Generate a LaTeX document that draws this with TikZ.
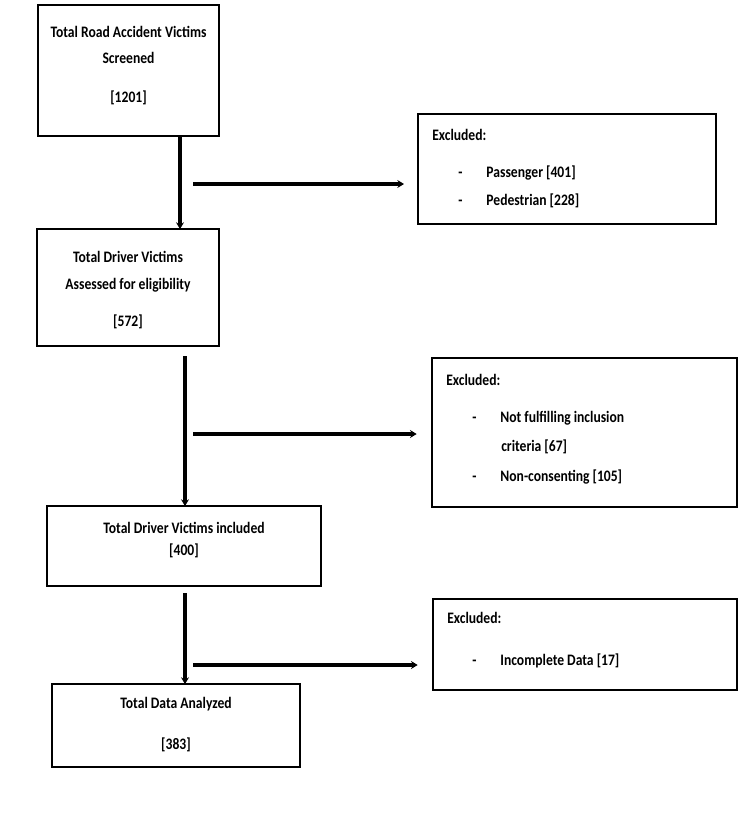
\documentclass[tikz,border=0pt]{standalone}
\usepackage{fontspec}
\setmainfont{Carlito}[FakeStretch=0.85]
\usetikzlibrary{arrows.meta,positioning}
\tikzset{
  flowbox/.style={draw, line width=1pt, inner sep=0pt},
  exclbox/.style={draw, line width=1pt, inner sep=0pt},
  lbl/.style={font=\bfseries\fontsize{12}{14}\selectfont, inner sep=0pt},
  txt/.style={lbl, anchor=west},
  flow/.style={line width=3pt, -{Stealth[length=5pt,width=6pt]}},
  side/.style={line width=2.5pt, -{Stealth[length=5pt,width=6pt]}}
}
\begin{document}
\begin{tikzpicture}[x=0.75pt,y=-0.75pt]
  \useasboundingbox (0,0) rectangle (750,822);
  % main boxes
  \node[flowbox, minimum width=181*0.75pt, minimum height=131*0.75pt] (screen) at (128.5,70.5) {};
  \node[lbl] at (128.5,32) {Total Road Accident Victims};
  \node[lbl] at (128.5,58) {Screened};
  \node[lbl] at (128.5,98) {[1201]};
  \node[flowbox, minimum width=182*0.75pt, minimum height=117*0.75pt] (assess) at (128,287.5) {};
  \node[lbl] at (128,257) {Total Driver Victims};
  \node[lbl] at (128,285) {Assessed for eligibility};
  \node[lbl] at (128,322) {[572]};
  \node[flowbox, minimum width=274*0.75pt, minimum height=80*0.75pt] (incl) at (184,546) {};
  \node[lbl] at (184,528) {Total Driver Victims included};
  \node[lbl] at (184,551) {[400]};
  \node[flowbox, minimum width=248*0.75pt, minimum height=83*0.75pt] (anal) at (176,725.5) {};
  \node[lbl] at (176,704) {Total Data Analyzed};
  \node[lbl] at (176,745) {[383]};
  % excluded boxes
  \node[exclbox, minimum width=298*0.75pt, minimum height=110*0.75pt] (exA) at (567,169) {};
  \node[txt] at (432,135) {Excluded:};
  \node[txt] at (458,173) {-\hspace{18pt}Passenger [401]};
  \node[txt] at (458,201) {-\hspace{18pt}Pedestrian [228]};
  \node[exclbox, minimum width=305*0.75pt, minimum height=149*0.75pt] (exB) at (584.5,432.5) {};
  \node[txt] at (446,380) {Excluded:};
  \node[txt] at (472,418) {-\hspace{18pt}Not fulfilling inclusion};
  \node[txt] at (501,447) {criteria [67]};
  \node[txt] at (472,477) {-\hspace{18pt}Non-consenting [105]};
  \node[exclbox, minimum width=304*0.75pt, minimum height=91*0.75pt] (exC) at (585,644.5) {};
  \node[txt] at (447,618) {Excluded:};
  \node[txt] at (472,661) {-\hspace{18pt}Incomplete Data [17]};
  % connectors
  \coordinate (a1) at (180,136); \coordinate (a2) at (180,229);
  \coordinate (b1) at (185,356); \coordinate (b2) at (185,506);
  \coordinate (c1) at (185,593); \coordinate (c2) at (185,684);
  \draw[flow] (a1) -- (a2);
  \draw[flow] (b1) -- (b2);
  \draw[flow] (c1) -- (c2);
  \coordinate (s1) at (193,184); \coordinate (s2) at (193,434); \coordinate (s3) at (193,665);
  \draw[side] (s1) -- ([xshift=-10pt]s1 -| exA.west);
  \draw[side] (s2) -- ([xshift=-11pt]s2 -| exB.west);
  \draw[side] (s3) -- ([xshift=-11pt]s3 -| exC.west);
\end{tikzpicture}
\end{document}
